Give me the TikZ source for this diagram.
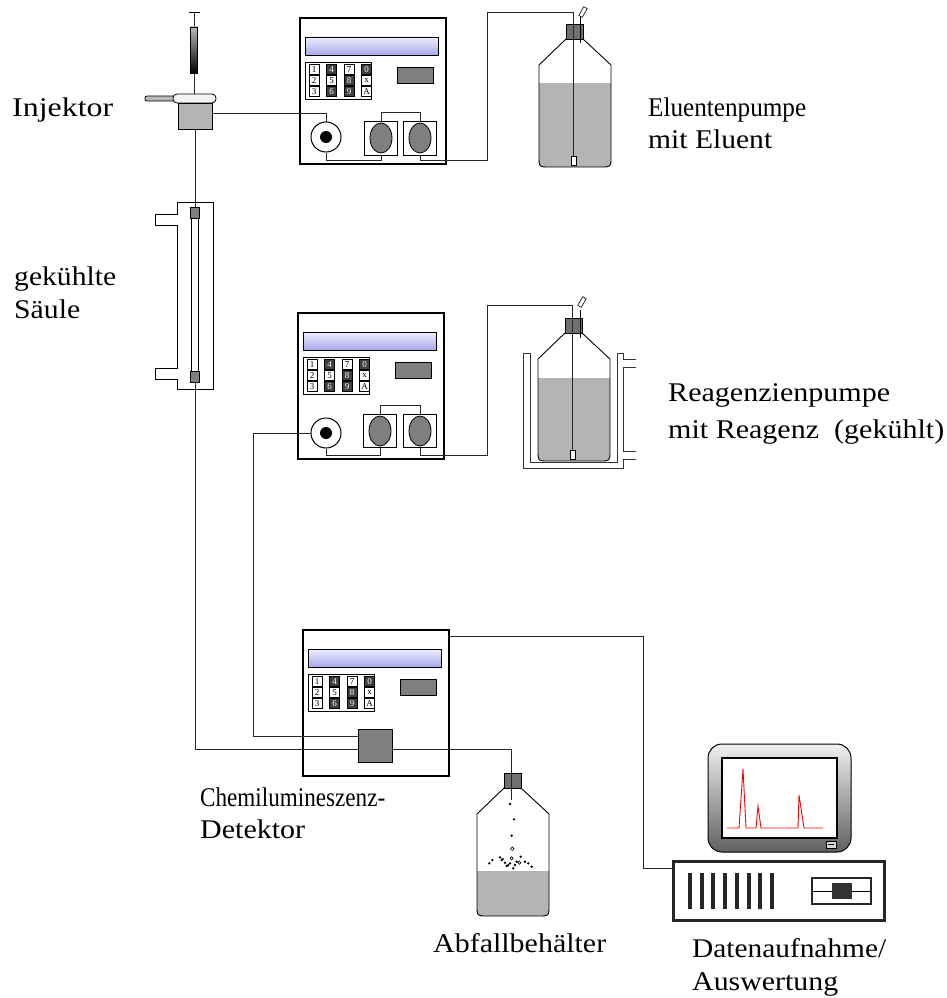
\documentclass[tikz,border=0pt]{standalone}
\usepackage{fontspec}
\setmainfont{Liberation Serif}
\usetikzlibrary{shapes.geometric}
\definecolor{liquid}{HTML}{B4B4B4}
\definecolor{capgray}{HTML}{707070}
\definecolor{headgray}{HTML}{7F7F7F}
\definecolor{lcdtop}{HTML}{EEEEFF}
\definecolor{lcdbot}{HTML}{A8A8EA}

% set a label to a given width, keeping its height
\newcommand\widelabel[2]{\resizebox{#1}{\height}{#2}}

\tikzset{
  % control panel: housing, display, keypad and small readout
  panel/.pic={
    \draw[line width=1.1pt,fill=white] (0,0) rectangle (146,146);
    \draw[line width=0.8pt,top color=lcdtop,bottom color=lcdbot] (5,19) rectangle (138,37);
    \draw[line width=0.8pt,fill=white] (5,44) rectangle (71,81);
    \foreach \t/\s [count=\i from 0] in {1/key,4/darkkey,7/key,0/darkkey,2/key,5/key,8/darkkey,x/key,3/key,6/darkkey,9/darkkey,A/key}{
      \pgfmathtruncatemacro\c{mod(\i,4)}
      \pgfmathtruncatemacro\r{div(\i,4)}
      \node[\s] at (14+\c*17.5,51.5+\r*11) {\t};
    }
    \draw[line width=0.8pt,fill=headgray] (97,49) rectangle (133,65);
  },
  % bottle with cap; the argument is the liquid level below the cap top
  bottle/.pic={
    \begin{scope}
      \clip (0,15) -- (-27,41) -- (-27,133) .. controls (-27,143) .. (-17,143)
        -- (35,143) .. controls (45,143) .. (45,133) -- (45,41) -- (17,15) -- cycle;
      \fill[liquid] (-30,#1) rectangle (50,150);
    \end{scope}
    \draw[line width=0.9pt] (0,15) -- (-27,41) -- (-27,133) .. controls (-27,143) .. (-17,143)
      -- (35,143) .. controls (45,143) .. (45,133) -- (45,41) -- (17,15);
    \draw[line width=0.9pt,fill=capgray] (0,0) rectangle (17,15);
  }
}

\begin{document}
\begin{tikzpicture}[x=1pt,y=-1pt,
  tube/.style={line width=0.8pt,draw=black!85},
  lbl/.style={anchor=base west,inner sep=0pt,font=\fontsize{27}{32}\selectfont},
  key/.style={draw,line width=0.6pt,fill=white,minimum size=10pt,inner sep=0pt,font=\fontsize{9}{9}\selectfont},
  darkkey/.style={key,fill=black!75,text=white},
  headbox/.style={draw,line width=1pt,fill=white,minimum width=33pt,minimum height=34pt,inner sep=0pt},
  headoval/.style={draw,line width=0.8pt,fill=headgray,ellipse,minimum width=22pt,minimum height=30pt,inner sep=0pt},
  valve/.style={circle,draw,line width=1pt,fill=white,minimum size=30pt,inner sep=0pt},
  fitting/.style={draw,line width=0.8pt,fill=headgray,minimum width=9pt,minimum height=11pt,inner sep=0pt},
  filter/.style={draw,line width=0.6pt,fill=white,minimum width=5pt,minimum height=9pt,inner sep=0pt},
  vent/.style={draw,line width=0.6pt,fill=white,minimum width=4pt,minimum height=10pt,inner sep=0pt,rotate=-30},
]
\useasboundingbox (0,0) rectangle (946,998);

% ---------- injector with syringe ----------
\draw[line width=0.8pt] (189,12) -- (200,12);
\draw[tube] (194.5,12) -- (194.5,27);
\draw[line width=0.6pt,top color=gray!55,bottom color=black] (190.5,27) rectangle (197.5,73);
\draw[tube] (194.5,73) -- (194.5,95);
\draw[line width=0.8pt,fill=gray!55,rounded corners=2pt] (145,96) rectangle (176,101);
\draw[line width=0.8pt,fill=gray!8,rounded corners=4pt] (173,94) rectangle (216,103);
\node[draw,line width=1pt,fill=liquid,minimum width=34pt,minimum height=26pt,inner sep=0pt] (inj) at (195,116) {};

% ---------- eluent pump ----------
\pic at (300,18) {panel};
\node[valve] (valve1) at (326,137) {};
\fill (valve1) circle (6pt);
\node[headbox] (h1a) at (381,138) {};
\node[headoval] at (h1a) {};
\node[headbox] (h1b) at (420,138) {};
\node[headoval] at (h1b) {};

% ---------- eluent bottle ----------
\pic at (566,24) {bottle=59};
\draw[line width=0.7pt] (580,15) -- (580,43);
\node[vent] (vent1) at (583,12) {};
\node[filter] (f1) at (573.5,160.5) {};

% ---------- cooled column ----------
\draw[line width=1pt] (177,202) -- (177,214) -- (155,214) -- (155,225) -- (177,225) -- (177,368)
  -- (155,368) -- (155,379) -- (177,379) -- (177,389) -- (213,389) -- (213,202) -- cycle;
\node[fitting] (colt) at (195,212.5) {};
\node[fitting] (colb) at (195,377) {};
\draw[line width=0.8pt] (191.5,218) -- (191.5,371.5) (198.5,218) -- (198.5,371.5);

% ---------- reagent pump ----------
\pic at (298,313) {panel};
\node[valve] (valve2) at (326,433) {};
\fill (valve2) circle (6pt);
\node[headbox,minimum height=33pt] (h2a) at (380,431) {};
\node[headoval] at (h2a) {};
\node[headbox,minimum height=33pt] (h2b) at (420,431) {};
\node[headoval] at (h2b) {};

% ---------- reagent bottle in cooling bath ----------
\draw[line width=0.9pt,draw=black!80] (636,359) -- (623,359) -- (623,353) -- (617,353) -- (617,462) -- (530,462)
  -- (530,353) -- (523,353) -- (523,468) -- (623,468) -- (623,459) -- (636,459);
\draw[line width=0.9pt,draw=black!80] (636,451) -- (623,451) -- (623,367) -- (636,367);
\pic at (565,318) {bottle=60};
\draw[line width=0.7pt] (580,310) -- (580,338);
\node[vent] (vent2) at (582,302) {};
\node[filter] (f2) at (572.5,454.5) {};

% ---------- chemiluminescence detector ----------
\pic at (303,630) {panel};
\node[draw,line width=1pt,fill=headgray,minimum width=34pt,minimum height=33pt,inner sep=0pt] (cell) at (375,745.5) {};
\coordinate (detport) at (448,636);

% ---------- waste bottle ----------
\pic at (504,773) {bottle=98};
\coordinate (drip) at (511,800);
\foreach \p in {(510,804),(514,819.3),(511.7,835.7),(489.3,863.3),(492.3,860),(500,857.3),(502.7,859),
  (505,862.7),(508.3,865),(510,863.3),(513.3,868.3),(515,865),(516.7,861.7),(520.7,856.7),(525,861.7),
  (528.3,863.3),(531.7,866.7),(501.7,860),(506.7,866)}
  \fill \p circle (1.3pt);
\draw[line width=0.6pt] (512.3,848.7) circle (1.8pt) (511.7,858.3) circle (1.6pt) (519.3,862.7) circle (1.6pt);

% ---------- data acquisition computer ----------
\draw[line width=1pt,top color=gray!12,bottom color=gray!75!black,rounded corners=14pt] (708,744) rectangle (851,852);
\node[draw,line width=1.2pt,fill=white,minimum width=115pt,minimum height=80pt,inner sep=0pt] (screen) at (779.5,798) {};
\draw[line width=0.8pt,fill=gray!30] (826,841) rectangle (836,848);
\draw[line width=0.6pt] (828,844.5) -- (834,844.5);
\draw[red,line width=0.9pt] (727,828) -- (739,828) -- (743,769) -- (746,828) -- (756,828) -- (758,806)
  -- (761,828) -- (798,828) -- (799,795) -- (804,828) -- (823,828);
\node[draw=black!85,line width=3pt,fill=white,minimum width=211pt,minimum height=59pt,inner sep=0pt] (case) at (779,891) {};
\foreach \i in {0,...,7}
  \fill[black!85] (688+\i*11.7,873) rectangle ++(4,36);
\draw[line width=2pt,draw=black!85] (812,878) rectangle (871,904);
\draw[line width=1.2pt] (812,891.5) -- (871,891.5);
\fill[black!80] (832,883) rectangle (852,899);

% ---------- tubing and cables ----------
\draw[tube] ([yshift=3pt]inj.east) -| (valve1.north);
\draw[tube] (inj.south) -- (colt.north);
\draw[tube] (colb.south) |- ([yshift=-3.5pt]cell.west);
\draw[tube] (h1a.north) -- ++(0,-8) -| (h1b.north);
\draw[tube] (valve1.south) -- ++(0,8) -| (h1a.south);
\coordinate (e1) at (487,12);
\draw[tube] (h1b.south) -- ++(0,5) -| (e1) -| (f1.north);
\draw[tube] (h2a.north) -- ++(0,-9) -| (h2b.north);
\draw[tube] (valve2.south) -- ++(0,7) -| (h2a.south);
\coordinate (e2) at (487,305);
\draw[tube] (h2b.south) -- ++(0,7.5) -| (e2) -| (f2.north);
\coordinate (c2) at (253,736);
\draw[tube] (valve2.west) -| (c2) -- (cell.west |- c2);
\draw[tube] ([yshift=-3.5pt]cell.east) -| (drip);
\coordinate (c3) at (643,868);
\draw[tube] (detport) -| (c3) -- (case.west |- c3);

% ---------- labels ----------
\node[lbl] (tInj) at (12,116) {\widelabel{101pt}{Injektor}};
\node[lbl] (tEl1) at (648,116) {\widelabel{158pt}{Eluentenpumpe}};
\node[lbl] (tEl2) at (648,148) {\widelabel{124pt}{mit Eluent}};
\node[lbl] (tCol1) at (14,285) {\widelabel{102pt}{gekühlte}};
\node[lbl] (tCol2) at (14,318) {\widelabel{66pt}{Säule}};
\node[lbl] (tRe1) at (668,401) {\widelabel{222pt}{Reagenzienpumpe}};
\node[lbl] (tRe2) at (668,438) {\widelabel{276pt}{mit Reagenz\ \ (gekühlt)}};
\node[lbl] (tDet1) at (200,806) {\widelabel{185pt}{Chemilumineszenz-}};
\node[lbl] (tDet2) at (200,838) {\widelabel{105pt}{Detektor}};
\node[lbl] (tWaste) at (433,952) {\widelabel{173pt}{Abfallbehälter}};
\node[lbl] (tDat1) at (692,957) {\widelabel{194pt}{Datenaufnahme/}};
\node[lbl] (tDat2) at (692,990) {\widelabel{146pt}{Auswertung}};
\end{tikzpicture}
\end{document}
